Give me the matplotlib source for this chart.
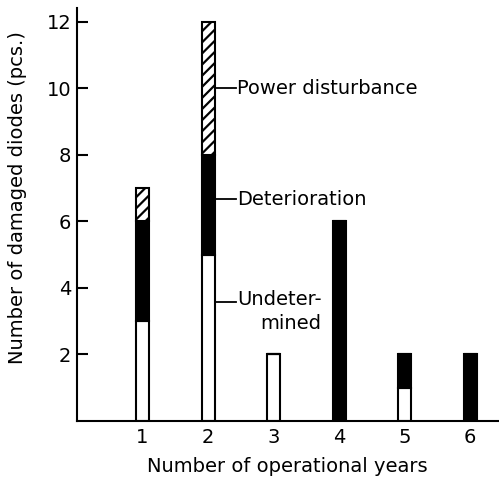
import matplotlib.pyplot as plt
import numpy as np

# values
years = [1, 2, 3, 4, 5, 6]
undetermined = [3, 5, 2, 0, 1, 0]
deterioration = [3, 3, 0, 6, 1, 2]
power_disturbance = [1, 4, 0, 0, 0, 0]

plt.rcParams['font.family'] = ['DejaVu Sans']
plt.rcParams['hatch.linewidth'] = 1.6

fig = plt.figure(figsize=(4.99, 4.79), dpi=100)
ax = fig.add_axes([77 / 499, 58 / 479, 422 / 499, 413 / 479])

w = 0.2
und = np.array(undetermined)
det = np.array(deterioration)
pwr = np.array(power_disturbance)

ax.bar(years, und, width=w, color='white', edgecolor='black', linewidth=1.5)
ax.bar(years, det, width=w, bottom=und, color='black', edgecolor='black', linewidth=1.5)
ax.bar(years, pwr, width=w, bottom=und + det, color='white', edgecolor='black',
       linewidth=1.5, hatch='///')

# leader lines and labels next to the year-2 bar
x0 = 2 + w / 2
for yv, txt in [(10.0, 'Power disturbance'), (6.67, 'Deterioration'), (3.57, 'Undeter-\nmined')]:
    ax.plot([x0, x0 + 0.33], [yv, yv], color='black', linewidth=1.3)
    if '\n' in txt:
        ax.text(x0 + 0.34, yv, txt, ha='left', va='top', fontsize=14,
                multialignment='right', linespacing=1.3,
                transform=ax.transData + plt.matplotlib.transforms.ScaledTranslation(0, 12 / 100, fig.dpi_scale_trans))
    else:
        ax.text(x0 + 0.34, yv, txt, ha='left', va='center', fontsize=14)

ax.set_xlim(0, 6.44)
ax.set_ylim(0, 12.42)
ax.set_xticks(years)
ax.set_yticks([2, 4, 6, 8, 10, 12])
ax.tick_params(axis='x', length=0, labelsize=14, pad=5)
ax.tick_params(axis='y', direction='in', length=8, width=1.5, labelsize=14, pad=4)

for s in ['top', 'right']:
    ax.spines[s].set_visible(False)
for s in ['left', 'bottom']:
    ax.spines[s].set_linewidth(1.5)

fig.text(287 / 499, 1 - 466 / 479, 'Number of operational years', ha='center', va='center', fontsize=14)
fig.text(18 / 499, 1 - 198 / 479, 'Number of damaged diodes (pcs.)', ha='center', va='center',
         rotation=90, fontsize=14)

plt.savefig('out.png', dpi=100)
